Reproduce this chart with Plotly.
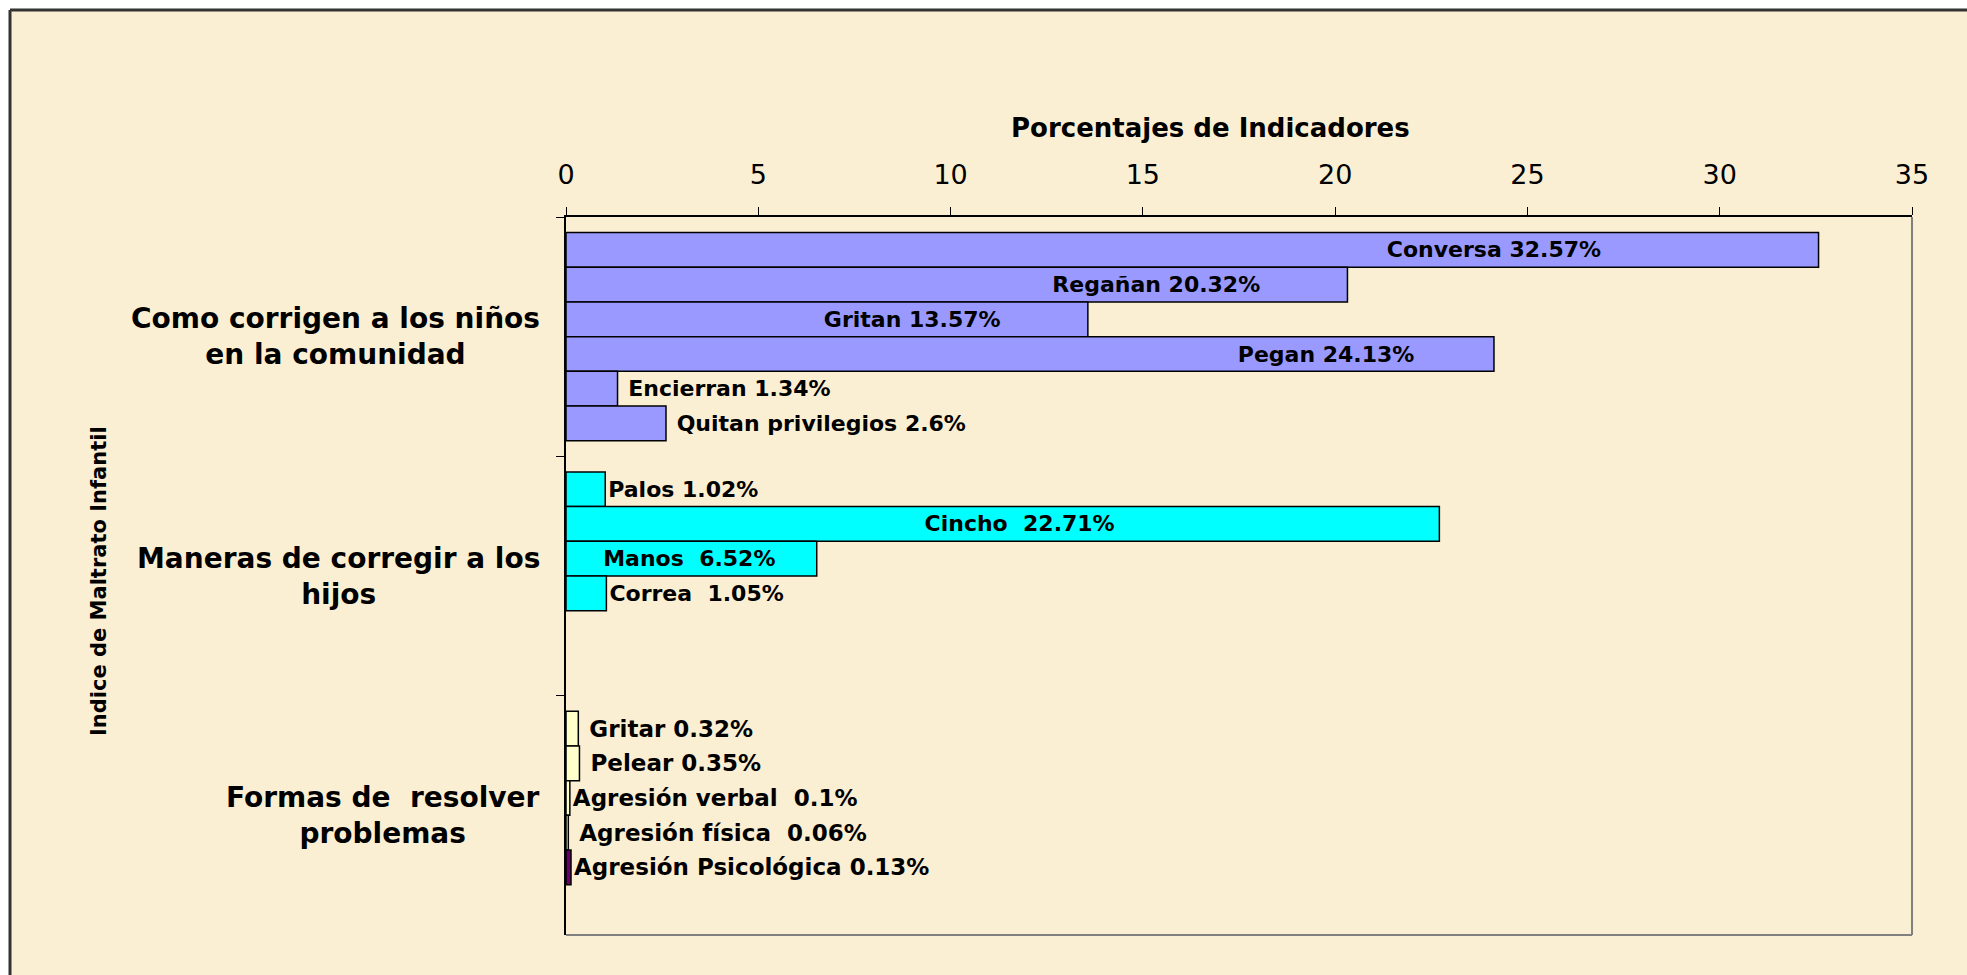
import plotly.graph_objects as go

# ---------------- data ----------------
categories = [
    "Como corrigen a los niños<br>en la comunidad",
    "Maneras de corregir a los<br>hijos",
    "Formas de  resolver<br>problemas",
]

indicators_corrigen = ["Conversa", "Regañan", "Gritan", "Pegan", "Encierran", "Quitan privilegios"]
values_corrigen = [32.57, 20.32, 13.57, 24.13, 1.34, 2.6]

indicators_maneras = ["Palos", "Cincho", "Manos", "Correa"]
values_maneras = [1.02, 22.71, 6.52, 1.05]

indicators_formas = ["Gritar", "Pelear", "Agresión verbal", "Agresión física", "Agresión Psicológica"]
values_formas = [0.32, 0.35, 0.1, 0.06, 0.13]

x_ticks = [0, 5, 10, 15, 20, 25, 30, 35]

x_title = "Porcentajes de Indicadores"
y_title = "Indice de Maltrato Infantil"

# ---------------- styles ----------------
group_colors = ["#9999FF", "#00FFFF", "#FFFFCC"]
group_label_size = [22, 22, 23]
color_override = {"Agresión Psicológica": "#660066"}
wide_gap = {"Cincho", "Manos", "Correa", "Agresión verbal", "Agresión física"}
inside_pad = {"Conversa": 28, "Regañan": 11, "Gritan": 11, "Pegan": 10, "Cincho": 42, "Manos": 5}
lead_pad = {"Encierran": 1, "Quitan privilegios": 1, "Gritar": 1, "Pelear": 1, "Agresión física": 1}

FONT = "DejaVu Sans"
NB = "\u00a0"
W, H = 1967, 975
L, R, T, B = 566, 1912, 217, 935
PARCH = "#FBEFD3"

groups = [
    (indicators_corrigen, values_corrigen),
    (indicators_maneras, values_maneras),
    (indicators_formas, values_formas),
]
n_slots = max(len(g[0]) for g in groups)


def label(name, v):
    sep = " " + NB if name in wide_gap else " "
    txt = f"{name}{sep}{v:g}%"
    if name in inside_pad:
        txt = txt + NB * inside_pad[name]
    else:
        txt = NB * lead_pad.get(name, 0) + txt
    return txt


fig = go.Figure()
for s in range(n_slots):
    ys, xs, texts, cols, pos, sizes = [], [], [], [], [], []
    for gi, (names, vals) in enumerate(groups):
        if s < len(names):
            ys.append(categories[gi])
            xs.append(vals[s])
            texts.append(label(names[s], vals[s]))
            cols.append(color_override.get(names[s], group_colors[gi]))
            pos.append("inside" if names[s] in inside_pad else "outside")
            sizes.append(group_label_size[gi])
    fig.add_trace(go.Bar(
        x=xs, y=ys, orientation="h",
        text=texts, textposition=pos, insidetextanchor="end", textangle=0,
        constraintext="none",
        insidetextfont=dict(family=FONT, size=sizes, color="black", weight="bold"),
        outsidetextfont=dict(family=FONT, size=sizes, color="black", weight="bold"),
        marker=dict(color=cols, line=dict(color="black", width=1.5)),
        cliponaxis=False, showlegend=False, hoverinfo="skip",
    ))


def px_x(p):
    return (p - L) / (R - L)


def px_y(p):
    return (B - p) / (B - T)


annotations = []
for c in categories:
    annotations.append(dict(
        x=px_x(542), xref="paper", y=c, yref="y", xanchor="right", yanchor="middle",
        text=c, align="center", showarrow=False,
        font=dict(family=FONT, size=28, color="black", weight="bold"),
    ))
annotations.append(dict(
    x=px_x(1210), xref="paper", y=px_y(128), yref="paper", xanchor="center", yanchor="middle",
    text=x_title, showarrow=False,
    font=dict(family=FONT, size=26, color="black", weight="bold"),
))
annotations.append(dict(
    x=px_x(99), xref="paper", y=px_y(581), yref="paper", xanchor="center", yanchor="middle",
    text=y_title, textangle=-90, showarrow=False,
    font=dict(family=FONT, size=21, color="black", weight="bold"),
))

shapes = [
    dict(type="rect", xref="paper", yref="paper", x0=px_x(10), x1=px_x(W + 20), y0=px_y(H + 20), y1=px_y(10),
         fillcolor=PARCH, line=dict(width=0), layer="below"),
    dict(type="line", xref="paper", yref="paper", x0=px_x(10), x1=px_x(W + 20), y0=px_y(10), y1=px_y(10),
         line=dict(color="#333333", width=3), layer="below"),
    dict(type="line", xref="paper", yref="paper", x0=px_x(10), x1=px_x(10), y0=px_y(10), y1=px_y(H + 20),
         line=dict(color="#333333", width=3), layer="below"),
    dict(type="line", xref="paper", yref="paper", x0=1, x1=1, y0=0, y1=1,
         line=dict(color="#808080", width=2), layer="below"),
    dict(type="line", xref="paper", yref="paper", x0=0, x1=1, y0=0, y1=0,
         line=dict(color="#808080", width=2), layer="below"),
]

fig.update_layout(
    width=W, height=H, autosize=False,
    margin=dict(l=L, r=W - R, t=T, b=H - B, pad=0),
    paper_bgcolor="white", plot_bgcolor="rgba(0,0,0,0)",
    barmode="group", bargap=0.13, bargroupgap=0,
    annotations=annotations, shapes=shapes,
    showlegend=False,
)
fig.update_xaxes(
    side="top", range=[0, 35], tickvals=x_ticks, ticktext=[str(v) for v in x_ticks],
    ticks="outside", ticklen=8, tickwidth=1, tickcolor="black",
    showline=True, linecolor="black", linewidth=1.5, showgrid=False, zeroline=False,
    tickfont=dict(family=FONT, size=27, color="black"), ticklabelstandoff=12,
)
fig.update_yaxes(
    type="category", categoryorder="array", categoryarray=categories, autorange="reversed",
    ticks="outside", tickson="boundaries", ticklen=8, tickwidth=1, tickcolor="black",
    showline=True, linecolor="black", linewidth=1.5, showgrid=False, zeroline=False,
    showticklabels=False,
)

fig.write_html(
    "out.html",
    config={"displayModeBar": False},
    post_script="document.body.style.margin='0px';document.body.style.overflow='hidden';",
)
